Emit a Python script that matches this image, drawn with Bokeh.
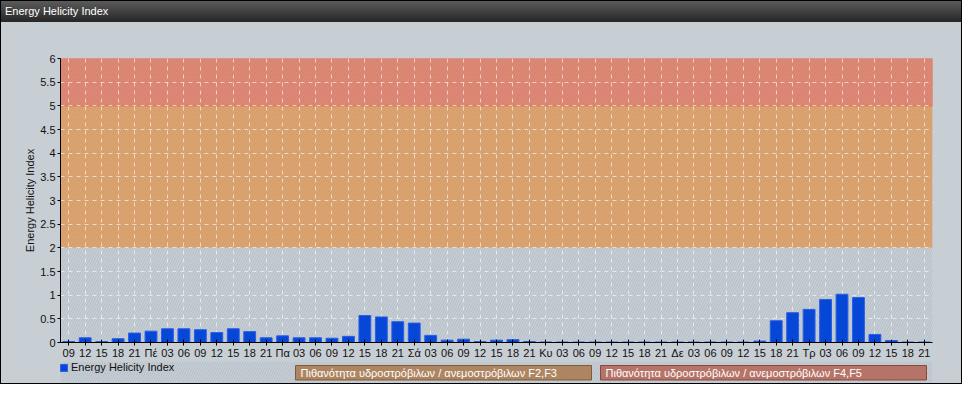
from bokeh.plotting import figure
from bokeh.layouts import column
from bokeh.models import (BoxAnnotation, Legend, LegendItem, FixedTicker, Div,
                          NumeralTickFormatter, Range1d, ColumnDataSource)
from bokeh.core.properties import value
from bokeh.embed import file_html
from bokeh.resources import INLINE

# ---------------- data ----------------
x_labels = ["09", "12", "15", "18", "21",
            "Πέ", "03", "06", "09", "12", "15", "18", "21",
            "Πα", "03", "06", "09", "12", "15", "18", "21",
            "Σά", "03", "06", "09", "12", "15", "18", "21",
            "Κυ", "03", "06", "09", "12", "15", "18", "21",
            "Δε", "03", "06", "09", "12", "15", "18", "21",
            "Τρ", "03", "06", "09", "12", "15", "18", "21"]
ehi_values = [0.02, 0.10, 0.02, 0.08, 0.20,
              0.24, 0.29, 0.29, 0.27, 0.21, 0.29, 0.23, 0.10,
              0.14, 0.10, 0.10, 0.09, 0.13, 0.57, 0.54, 0.44,
              0.41, 0.15, 0.05, 0.07, 0.02, 0.05, 0.06, 0.02,
              0.01, 0.01, 0.01, 0.01, 0.01, 0.01, 0.01, 0.01,
              0.01, 0.01, 0.01, 0.01, 0.01, 0.03, 0.46, 0.63,
              0.70, 0.91, 1.02, 0.95, 0.17, 0.04, 0.01, 0.01]
y_ticks = [0, 0.5, 1, 1.5, 2, 2.5, 3, 3.5, 4, 4.5, 5, 5.5, 6]
band_f2f3 = (2, 5)
band_f4f5 = (5, 6)
title_text = "Energy Helicity Index"
series_name = "Energy Helicity Index"
legend_f2f3 = "Πιθανότητα υδροστρόβιλων / ανεμοστρόβιλων F2,F3"
legend_f4f5 = "Πιθανότητα υδροστρόβιλων / ανεμοστρόβιλων F4,F5"

# ---------------- styling constants ----------------
W = 960
H_TITLE, H_MAIN, H_BOTTOM = 21, 339, 22
B_LEFT, B_RIGHT = 59, 29
FONT = "Liberation Sans"
BG = "#c7ced4"
HATCH = dict(hatch_pattern="/", hatch_color="#9eabb8", hatch_alpha=0.45,
             hatch_scale=5, hatch_weight=1)

# ---------------- title bar ----------------
title_div = Div(
    text=('<div style="padding-left:4px;line-height:21px;white-space:nowrap;'
          'color:white;font-family:\'Liberation Sans\',Arial,sans-serif;'
          'font-size:11px;">' + title_text + '</div>'),
    width=W, height=H_TITLE,
    styles={"background": "linear-gradient(#5b5b5b, #262626)",
            "color": "white", "margin": "0", "padding": "0"})

# ---------------- main chart ----------------
xs = list(range(len(x_labels)))
src = ColumnDataSource(dict(x=xs, top=ehi_values))

p = figure(width=W, height=H_MAIN, output_backend="svg", toolbar_location=None,
           title=None,
           x_range=Range1d(-0.5, len(x_labels) - 0.5), y_range=Range1d(0, 6),
           min_border_left=B_LEFT, min_border_right=B_RIGHT, min_border_top=36,
           min_border_bottom=17)
p.background_fill_color = BG
p.border_fill_color = BG
p.outline_line_color = None

# hatch over the frame background
p.add_layout(BoxAnnotation(fill_alpha=0, line_color=None, level="image", **HATCH))

# risk bands
p.add_layout(BoxAnnotation(bottom=band_f2f3[0], top=band_f2f3[1],
                           fill_color="#dea26c", fill_alpha=0.95,
                           line_color=None, level="image",
                           hatch_pattern="/", hatch_color="#b98356",
                           hatch_alpha=0.3, hatch_scale=5, hatch_weight=1))
p.add_layout(BoxAnnotation(bottom=band_f4f5[0], top=band_f4f5[1],
                           fill_color="#e28672", fill_alpha=0.95,
                           line_color="#e0664a", line_alpha=0.8, line_width=1,
                           level="image",
                           hatch_pattern="/", hatch_color="#bb6a5a",
                           hatch_alpha=0.3, hatch_scale=5, hatch_weight=1))

bars = p.vbar(x="x", top="top", width=0.72, source=src,
              fill_color="#0747d8", line_color="#2a5ee6", line_width=1)

for ax in (p.xaxis[0], p.yaxis[0]):
    ax.axis_line_color = "black"
    ax.major_tick_line_color = "black"
    ax.minor_tick_line_color = None
    ax.major_label_text_font = FONT
    ax.major_label_text_font_size = "11px"
    ax.major_label_text_color = "#111111"

p.yaxis.ticker = FixedTicker(ticks=y_ticks)
p.yaxis.formatter = NumeralTickFormatter(format="0.[0]")
p.yaxis.major_tick_out = 3
p.yaxis.major_tick_in = 0
p.yaxis.major_label_standoff = 2
p.yaxis.axis_label = series_name
p.yaxis.axis_label_text_font = FONT
p.yaxis.axis_label_text_font_size = "11px"
p.yaxis.axis_label_text_font_style = "normal"
p.yaxis.axis_label_text_color = "#111111"
p.yaxis.axis_label_standoff = 1

p.xaxis.ticker = FixedTicker(ticks=xs)
p.xaxis.major_label_overrides = {i: lab for i, lab in enumerate(x_labels)}
p.xaxis.major_tick_out = 3
p.xaxis.major_tick_in = 3
p.xaxis.major_label_standoff = 1

p.xgrid.ticker = FixedTicker(ticks=xs)
p.ygrid.ticker = FixedTicker(ticks=y_ticks)
for g in (p.xgrid[0], p.ygrid[0]):
    g.grid_line_color = "white"
    g.grid_line_alpha = 0.6
    g.grid_line_dash = "4 4"

# ---------------- legend strip ----------------
pb = figure(width=W, height=H_BOTTOM, output_backend="svg", toolbar_location=None,
            title=None, x_range=Range1d(B_LEFT, W - B_RIGHT),
            y_range=Range1d(H_BOTTOM, 0),
            min_border_left=B_LEFT, min_border_right=B_RIGHT,
            min_border_top=0, min_border_bottom=0)
pb.background_fill_color = BG
pb.border_fill_color = BG
pb.outline_line_color = None
pb.xaxis.visible = False
pb.yaxis.visible = False
pb.xgrid.visible = False
pb.ygrid.visible = False
pb.add_layout(BoxAnnotation(fill_alpha=0, line_color=None, level="image", **HATCH))

series_glyph = pb.quad(left=[-10], right=[-5], top=[0], bottom=[1],
                       fill_color="#0747d8", line_color="#2a5ee6")
legend = Legend(items=[LegendItem(label=series_name, renderers=[series_glyph])],
                orientation="horizontal", location=(-1, 10),
                glyph_width=9, glyph_height=9, label_standoff=3,
                label_text_font=FONT, label_text_font_size="11px",
                label_text_color="#111111", label_height=12,
                padding=0, margin=0, spacing=0,
                border_line_color=None, background_fill_alpha=0)
pb.add_layout(legend)

band_names = [legend_f2f3, legend_f4f5]
band_left = [294, 599]
band_right = [590, 925]
band_fill = ["#ae8561", "#b67468"]
band_line = ["#7f5b3d", "#87493f"]
pb.quad(left=band_left, right=band_right, top=[4] * 2, bottom=[18.5] * 2,
        fill_color=band_fill, line_color=band_line, line_width=1)
pb.text(x=[l + 5 for l in band_left], y=[11.5] * 2, text=band_names,
        text_color="white", text_font=value(FONT), text_font_size="11px",
        text_baseline="middle")

layout = column(title_div, p, pb, spacing=0,
                styles={"border": "1px solid black", "background-color": BG})

open("out.html", "w").write(file_html(layout, INLINE))
